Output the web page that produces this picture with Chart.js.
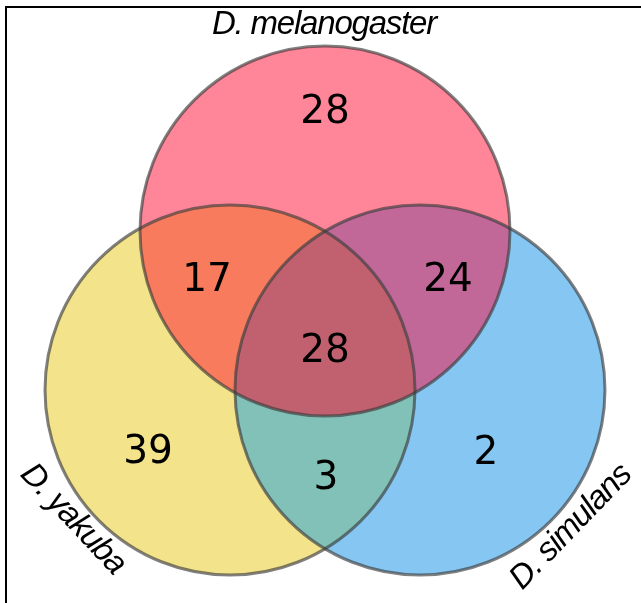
<!DOCTYPE html>
<html>
<head>
<meta charset="utf-8">
<script src="https://cdn.jsdelivr.net/npm/chart.js@4"></script>
<style>
  body { margin: 0; background: #fff; }
  canvas { display: block; }
</style>
</head>
<body>
<canvas id="venn" width="641" height="603"></canvas>
<script>
// the three sets: melanogaster (top), yakuba (left), simulans (right)
const setNames = ['D. melanogaster', 'D. yakuba', 'D. simulans'];
const centerX = [325, 230, 420];
const centerY = [231, 390, 390];
const radius = 185;

// region counts: M only, Y only, S only, M+Y, M+S, Y+S, all three
const regionCounts = [28, 39, 2, 17, 24, 3, 28];
const regionX = [325, 148, 486, 207, 448, 326, 325];
const regionY = [113, 453, 454, 281, 281, 479, 352];

const singleColors = ['#ff8598', '#f3e38a', '#85c6f2'];
const pairColors = { '0-1': '#f77b5c', '0-2': '#c26898', '1-2': '#82c1b7' };
const tripleColor = '#c16170';

const vennPlugin = {
    id: 'venn',
    afterDatasetsDraw(chart) {
        const ctx = chart.ctx
        const xs = chart.scales.x, ys = chart.scales.y
        const px = centerX.map(v => xs.getPixelForValue(v))
        const py = centerY.map(v => ys.getPixelForValue(v))
        const pr = xs.getPixelForValue(radius) - xs.getPixelForValue(0)

        const circle = i => {
            ctx.beginPath()
            ctx.arc(px[i], py[i], pr, 0, Math.PI * 2)
        }

        ctx.save()
        // frame (top + left only)
        ctx.strokeStyle = '#000'
        ctx.lineWidth = 2
        ctx.beginPath()
        ctx.moveTo(6, 603)
        ctx.lineTo(6, 7)
        ctx.lineTo(641, 7)
        ctx.stroke()

        for (let i = 0; i < 3; i++) {
            circle(i)
            ctx.fillStyle = singleColors[i]
            ctx.fill()
        }
        Object.keys(pairColors).forEach(k => {
            const [a, b] = k.split('-').map(Number)
            ctx.save()
            circle(a); ctx.clip()
            circle(b)
            ctx.fillStyle = pairColors[k]
            ctx.fill()
            ctx.restore()
        })
        ctx.save()
        circle(0); ctx.clip()
        circle(1); ctx.clip()
        circle(2)
        ctx.fillStyle = tripleColor
        ctx.fill()
        ctx.restore()

        ctx.strokeStyle = 'rgba(60,60,60,0.65)'
        ctx.lineWidth = 3
        for (let i = 0; i < 3; i++) {
            circle(i)
            ctx.stroke()
        }

        // counts
        ctx.fillStyle = '#000'
        ctx.textAlign = 'center'
        ctx.textBaseline = 'middle'
        ctx.font = '39px "DejaVu Sans"'
        regionCounts.forEach((n, i) => {
            ctx.fillText(String(n), xs.getPixelForValue(regionX[i]), ys.getPixelForValue(regionY[i]))
        })

        // set names
        ctx.font = 'italic 33px "Liberation Sans"'
        ctx.letterSpacing = '-1.2px'
        ctx.fillText(setNames[0], xs.getPixelForValue(324), ys.getPixelForValue(25))

        ctx.save()
        ctx.translate(xs.getPixelForValue(73), ys.getPixelForValue(519))
        ctx.rotate(47 * Math.PI / 180)
        ctx.fillText(setNames[1], 0, 0)
        ctx.restore()

        ctx.save()
        ctx.translate(xs.getPixelForValue(571), ys.getPixelForValue(527))
        ctx.rotate(-46 * Math.PI / 180)
        ctx.fillText(setNames[2], 0, 0)
        ctx.restore()

        ctx.restore()
    }
}

new Chart(document.getElementById('venn'), {
    type: 'scatter',
    data: {
        datasets: [{
            label: 'sets',
            data: centerX.map((x, i) => ({ x: x, y: centerY[i] })),
            pointRadius: 0
        }]
    },
    options: {
        responsive: false,
        animation: false,
        layout: { padding: 0 },
        plugins: { legend: { display: false }, tooltip: { enabled: false } },
        scales: {
            x: { display: false, min: 0, max: 641 },
            y: { display: false, min: 0, max: 603, reverse: true }
        }
    },
    plugins: [vennPlugin]
});
</script>
</body>
</html>
